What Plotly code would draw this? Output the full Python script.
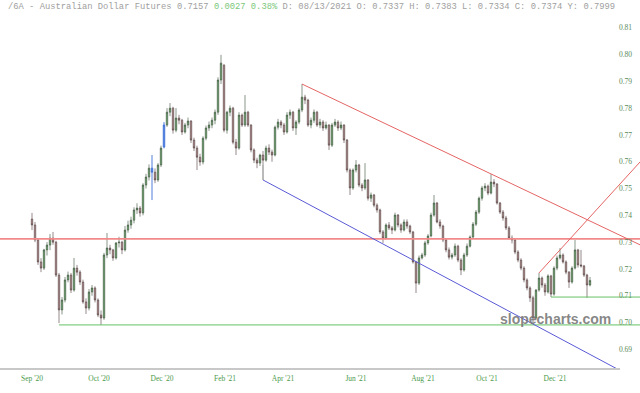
import plotly.graph_objects as go

# ---- data (one bar per ~2 trading days) ----
open_ = [0.7386,0.7364,0.7308,0.7226,0.7203,0.7271,0.7289,0.7315,0.7300,0.7177,
         0.7047,0.7084,0.7159,0.7177,0.7121,0.7203,0.7188,0.7151,0.7077,0.7054,
         0.7114,0.7129,0.7084,0.7028,0.7017,0.7252,0.7278,0.7271,0.7241,0.7297,
         0.7300,0.7271,0.7345,0.7364,0.7382,0.7420,0.7427,0.7409,0.7513,0.7543,
         0.7576,0.7561,0.7532,0.7588,0.7655,0.7737,0.7785,0.7800,0.7718,0.7763,
         0.7755,0.7711,0.7737,0.7752,0.7681,0.7651,0.7617,0.7599,0.7688,0.7726,
         0.7737,0.7755,0.7785,0.7905,0.7960,0.7718,0.7785,0.7800,0.7673,0.7651,
         0.7774,0.7737,0.7785,0.7737,0.7644,0.7606,0.7595,0.7625,0.7606,0.7651,
         0.7636,0.7625,0.7729,0.7748,0.7737,0.7711,0.7774,0.7785,0.7726,0.7748,
         0.7793,0.7841,0.7830,0.7737,0.7755,0.7785,0.7737,0.7748,0.7726,0.7737,
         0.7662,0.7737,0.7748,0.7726,0.7737,0.7681,0.7569,0.7502,0.7569,0.7588,
         0.7513,0.7502,0.7532,0.7464,0.7476,0.7438,0.7420,0.7338,0.7315,0.7364,
         0.7353,0.7345,0.7401,0.7364,0.7345,0.7375,0.7360,0.7338,0.7226,0.7147,
         0.7241,0.7252,0.7297,0.7323,0.7401,0.7446,0.7375,0.7360,0.7308,0.7271,
         0.7244,0.7252,0.7285,0.7233,0.7196,0.7252,0.7285,0.7319,0.7367,0.7412,
         0.7464,0.7502,0.7509,0.7483,0.7524,0.7517,0.7446,0.7412,0.7390,0.7353,
         0.7315,0.7308,0.7263,0.7233,0.7203,0.7159,0.7129,0.7092,0.7017,0.7121,
         0.7166,0.7140,0.7114,0.7174,0.7106,0.7203,0.7241,0.7252,0.7226,0.7188,
         0.7151,0.7203,0.7271,0.7215,0.7211,0.7177,0.7140]
high = [0.7409,0.7375,0.7315,0.7240,0.7275,0.7300,0.7330,0.7338,0.7305,0.7185,
        0.7095,0.7170,0.7190,0.7185,0.7241,0.7215,0.7195,0.7160,0.7090,0.7125,
        0.7140,0.7135,0.7090,0.7045,0.7260,0.7334,0.7290,0.7275,0.7300,0.7320,
        0.7305,0.7360,0.7380,0.7395,0.7430,0.7445,0.7435,0.7520,0.7555,0.7590,
        0.7625,0.7575,0.7595,0.7660,0.7748,0.7800,0.7819,0.7805,0.7800,0.7775,
        0.7760,0.7745,0.7765,0.7755,0.7690,0.7660,0.7630,0.7695,0.7735,0.7750,
        0.7765,0.7795,0.7915,0.7999,0.7965,0.7790,0.7810,0.7805,0.7685,0.7785,
        0.7780,0.7849,0.7790,0.7740,0.7650,0.7615,0.7630,0.7640,0.7660,0.7665,
        0.7645,0.7735,0.7760,0.7755,0.7745,0.7785,0.7795,0.7790,0.7755,0.7800,
        0.7890,0.7850,0.7835,0.7765,0.7795,0.7790,0.7760,0.7755,0.7750,0.7740,
        0.7745,0.7760,0.7755,0.7750,0.7740,0.7685,0.7575,0.7575,0.7606,0.7592,
        0.7520,0.7595,0.7535,0.7485,0.7480,0.7445,0.7425,0.7345,0.7370,0.7375,
        0.7360,0.7410,0.7405,0.7370,0.7385,0.7385,0.7365,0.7342,0.7230,0.7250,
        0.7260,0.7305,0.7330,0.7410,0.7476,0.7450,0.7385,0.7365,0.7315,0.7280,
        0.7260,0.7295,0.7290,0.7240,0.7260,0.7295,0.7325,0.7375,0.7420,0.7470,
        0.7510,0.7520,0.7515,0.7554,0.7535,0.7520,0.7450,0.7420,0.7398,0.7360,
        0.7325,0.7312,0.7270,0.7240,0.7210,0.7165,0.7135,0.7100,0.7125,0.7185,
        0.7172,0.7148,0.7180,0.7178,0.7210,0.7250,0.7278,0.7258,0.7232,0.7192,
        0.7210,0.7308,0.7275,0.7271,0.7215,0.7182,0.7170]
low = [0.7345,0.7300,0.7215,0.7188,0.7196,0.7250,0.7270,0.7290,0.7170,0.6998,
       0.7030,0.7075,0.7150,0.7110,0.7115,0.7175,0.7140,0.7070,0.7032,0.7045,
       0.7100,0.7075,0.7020,0.6991,0.7010,0.7240,0.7255,0.7230,0.7235,0.7280,
       0.7255,0.7265,0.7335,0.7350,0.7370,0.7405,0.7395,0.7400,0.7500,0.7530,
       0.7457,0.7520,0.7525,0.7580,0.7650,0.7730,0.7770,0.7705,0.7710,0.7740,
       0.7700,0.7705,0.7725,0.7670,0.7640,0.7569,0.7585,0.7590,0.7680,0.7715,
       0.7725,0.7740,0.7775,0.7890,0.7710,0.7705,0.7770,0.7665,0.7625,0.7645,
       0.7730,0.7730,0.7730,0.7635,0.7595,0.7576,0.7584,0.7590,0.7600,0.7625,
       0.7600,0.7620,0.7720,0.7725,0.7700,0.7705,0.7760,0.7715,0.7700,0.7740,
       0.7785,0.7815,0.7730,0.7725,0.7745,0.7730,0.7725,0.7715,0.7720,0.7644,
       0.7655,0.7730,0.7715,0.7718,0.7670,0.7560,0.7476,0.7495,0.7560,0.7505,
       0.7490,0.7495,0.7455,0.7450,0.7430,0.7410,0.7330,0.7297,0.7310,0.7345,
       0.7330,0.7340,0.7355,0.7335,0.7340,0.7350,0.7330,0.7220,0.7110,0.7140,
       0.7235,0.7245,0.7290,0.7318,0.7395,0.7370,0.7350,0.7300,0.7262,0.7235,
       0.7235,0.7245,0.7225,0.7177,0.7190,0.7245,0.7280,0.7312,0.7360,0.7405,
       0.7455,0.7490,0.7475,0.7478,0.7505,0.7440,0.7405,0.7380,0.7345,0.7310,
       0.7295,0.7255,0.7225,0.7195,0.7150,0.7120,0.7077,0.6995,0.7010,0.7115,
       0.7130,0.7100,0.7108,0.7095,0.7100,0.7195,0.7235,0.7220,0.7180,0.7129,
       0.7145,0.7198,0.7205,0.7205,0.7170,0.7092,0.7135]
close = [0.7364,0.7308,0.7226,0.7203,0.7271,0.7289,0.7315,0.7300,0.7177,0.7047,
         0.7084,0.7159,0.7177,0.7121,0.7203,0.7188,0.7151,0.7077,0.7054,0.7114,
         0.7129,0.7084,0.7028,0.7017,0.7252,0.7278,0.7271,0.7241,0.7297,0.7300,
         0.7271,0.7345,0.7364,0.7382,0.7420,0.7427,0.7409,0.7513,0.7543,0.7576,
         0.7561,0.7532,0.7588,0.7651,0.7737,0.7785,0.7800,0.7718,0.7763,0.7755,
         0.7711,0.7737,0.7752,0.7681,0.7651,0.7617,0.7599,0.7688,0.7726,0.7737,
         0.7755,0.7785,0.7905,0.7968,0.7718,0.7785,0.7800,0.7673,0.7651,0.7774,
         0.7737,0.7785,0.7737,0.7644,0.7606,0.7595,0.7625,0.7606,0.7651,0.7636,
         0.7625,0.7729,0.7748,0.7737,0.7711,0.7774,0.7785,0.7726,0.7748,0.7793,
         0.7841,0.7830,0.7737,0.7755,0.7785,0.7737,0.7748,0.7726,0.7737,0.7662,
         0.7737,0.7748,0.7726,0.7737,0.7681,0.7569,0.7502,0.7569,0.7588,0.7513,
         0.7502,0.7532,0.7464,0.7476,0.7438,0.7420,0.7338,0.7315,0.7364,0.7353,
         0.7345,0.7401,0.7364,0.7345,0.7375,0.7360,0.7338,0.7226,0.7147,0.7241,
         0.7252,0.7297,0.7323,0.7401,0.7446,0.7375,0.7360,0.7308,0.7271,0.7244,
         0.7252,0.7285,0.7233,0.7196,0.7252,0.7285,0.7319,0.7367,0.7412,0.7464,
         0.7502,0.7509,0.7483,0.7524,0.7517,0.7446,0.7412,0.7390,0.7353,0.7315,
         0.7308,0.7263,0.7233,0.7203,0.7159,0.7129,0.7092,0.7017,0.7121,0.7166,
         0.7140,0.7114,0.7174,0.7106,0.7203,0.7241,0.7252,0.7226,0.7188,0.7151,
         0.7203,0.7271,0.7215,0.7211,0.7177,0.7140,0.7157]
blue_bars = [40, 44]            # bars highlighted in blue on the chart

tick_pos = [0, 22.33, 43.33, 64.33, 83.67, 108, 130.33, 151.67, 174.33]
tick_text = ["Sep '20", "Oct '20", "Dec '20", "Feb '21", "Apr '21",
             "Jun '21", "Aug '21", "Oct '21", "Dec '21"]
price_ticks = [0.69, 0.70, 0.71, 0.72, 0.73, 0.74, 0.75, 0.76, 0.77, 0.78, 0.79, 0.80, 0.81]

# drawn trend lines (bar index, price)
resistance = 0.7312
support1 = (9, 0.6991)
support2 = (173, 0.7095)
down_trend = ([90, 202.67], [0.7890, 0.7290])
up_trend = ([169, 202.67], [0.7185, 0.7599])
channel_low = ([77, 195], [0.7532, 0.6827])
channel_anchor = ([77, 77], [0.7590, 0.7532])

x_left, x_right = -10.667, 202.667
bars = list(range(len(close)))

def pick(vals, keep):
    return [v if (i in blue_bars) == keep else None for i, v in enumerate(vals)]

fig = go.Figure()
fig.add_trace(go.Candlestick(
    x=bars, open=pick(open_, False), high=pick(high, False),
    low=pick(low, False), close=pick(close, False),
    increasing=dict(line=dict(color="#3a4d3a", width=0.6), fillcolor="#68a868"),
    decreasing=dict(line=dict(color="#4d3a3a", width=0.6), fillcolor="#b89090"),
    whiskerwidth=0, showlegend=False, hoverinfo="skip"))
fig.add_trace(go.Candlestick(
    x=bars, open=pick(open_, True), high=pick(high, True),
    low=pick(low, True), close=pick(close, True),
    increasing=dict(line=dict(color="#3d6fd6", width=0.9), fillcolor="#5b8be0"),
    decreasing=dict(line=dict(color="#3d6fd6", width=0.9), fillcolor="#5b8be0"),
    whiskerwidth=0, showlegend=False, hoverinfo="skip"))

def line(xs, ys, color, width):
    fig.add_trace(go.Scatter(x=xs, y=ys, mode="lines", line=dict(color=color, width=width),
                             showlegend=False, hoverinfo="skip"))

line([x_left, x_right], [resistance, resistance], "#f28a8a", 1.8)
line([support1[0], x_right], [support1[1], support1[1]], "#66c266", 1)
line([support2[0], x_right], [support2[1], support2[1]], "#66c266", 1)
line(down_trend[0], down_trend[1], "#e46464", 1)
line(up_trend[0], up_trend[1], "#e46464", 1)
line(channel_low[0], channel_low[1], "#5a5ad6", 1)
line(channel_anchor[0], channel_anchor[1], "#777777", 1)

fig.add_shape(type="line", xref="paper", yref="paper", x0=0, x1=620/640, y0=0, y1=0,
              line=dict(color="#c8c8c8", width=2))

header = ("/6A - Australian Dollar Futures 0.7157 "
          "<span style='color:#7cc87c'>0.0027 0.38%</span>"
          " D: 08/13/2021 O: 0.7337 H: 0.7383 L: 0.7334 C: 0.7374 Y: 0.7999")
fig.add_annotation(text=header, xref="paper", yref="paper", x=6/640, y=1 + 12.5/349,
                   xanchor="left", yanchor="middle", showarrow=False,
                   font=dict(family="Liberation Mono", size=8.8, color="#a0a0a0"))
fig.add_annotation(text="<b>slopecharts.com</b>", xref="paper", yref="paper",
                   x=555/640, y=50/349, xanchor="center", yanchor="middle", showarrow=False,
                   font=dict(family="Liberation Sans", size=14, color="rgba(120,120,120,0.9)"))

fig.update_layout(
    width=640, height=393, margin=dict(l=0, r=0, t=20, b=24),
    paper_bgcolor="white", plot_bgcolor="white",
    xaxis=dict(range=[x_left, x_right], rangeslider=dict(visible=False),
               showgrid=False, zeroline=False, showline=False,
               tickmode="array", tickvals=tick_pos, ticktext=tick_text, ticks="",
               ticklabelstandoff=3,
               tickfont=dict(family="Liberation Serif", size=7.5, color="#4c9a4c")),
    yaxis=dict(range=[0.68265, 0.8129], side="right", ticklabelposition="inside",
               showgrid=False, zeroline=False, showline=False, ticks="",
               tickmode="array", tickvals=price_ticks,
               ticktext=["%.2f" % v for v in price_ticks], ticklabelstandoff=5,
               tickfont=dict(family="Liberation Serif", size=7.5, color="#5b8a5b")),
)

fig.write_html("out.html")
